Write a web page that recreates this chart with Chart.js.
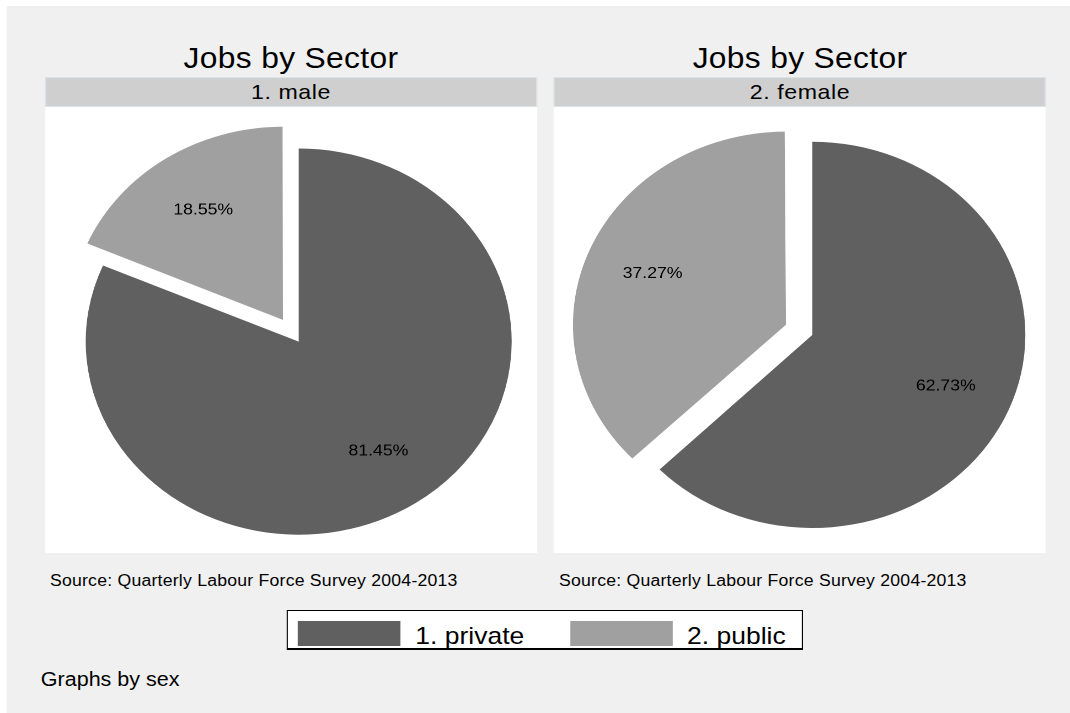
<!DOCTYPE html>
<html>
<head>
<meta charset="utf-8">
<title>Jobs by Sector</title>
<script src="https://cdn.jsdelivr.net/npm/chart.js@4.4.1/dist/chart.umd.min.js"></script>
<style>
  html, body { margin: 0; padding: 0; background: #fff; }
  body { width: 1070px; height: 713px; overflow: hidden; font-family: "Liberation Sans", Arial, Helvetica, sans-serif; color: #000; }
  /* the whole graph is laid out 970px wide and stretched sideways, so the pies come out as wide ovals */
  #page { position: absolute; left: 0; top: 0; width: 970px; height: 713px; transform: scaleX(1.103); transform-origin: 0 0; }
  .abs { position: absolute; white-space: nowrap; line-height: 1; }
  #bg { left: 6.35px; top: 6px; width: 970px; height: 710px; background: #f0f0f0; }
  .panel { top: 107px; width: 446px; height: 446px; background: #fff; }
  .strip { top: 77px; width: 446px; height: 30px; background: #cfcfcf; border: 1px solid #dbe3e8; box-sizing: border-box; }
  .title { top: 43.9px; width: 446px; text-align: center; font-size: 28.8px; letter-spacing: 0.3px; }
  .stripLabel { top: 80.5px; width: 446px; text-align: center; font-size: 21px; letter-spacing: 0.5px; }
  .note { top: 573.2px; font-size: 16px; letter-spacing: 0.2px; }
  canvas.pie { position: absolute; top: 107px; }
  #legend { left: 259.9px; top: 610px; width: 468px; height: 40px; background: #fff; border: 1px solid #000; border-bottom-width: 2px; box-sizing: border-box; }
  .swatch { top: 9.7px; width: 92.8px; height: 25px; }
  .key { top: 13.4px; font-size: 24px; }
  #bysex { left: 37px; top: 669.5px; font-size: 19.5px; }
</style>
</head>
<body>
<div id="page">
  <div id="bg" class="abs"></div>
  <div id="legend" class="abs"></div>
  <div id="bysex" class="abs">Graphs by sex</div>
</div>
<script>
// shares of jobs by sector, in percent
const sectors = ['1. private', '2. public'];
const groups = ['1. male', '2. female'];
const maleShares = [81.45, 18.55];
const femaleShares = [62.73, 37.27];
const sliceColors = ['#606060', '#a0a0a0'];

const titleText = 'Jobs by Sector';
const noteText = 'Source: Quarterly Labour Force Survey 2004-2013';

const panelLeft = [40.8, 502.3];
const pieRadius = 193.1;
const explode = 26;       // how far the public slice is pulled out
const labelPos = 0.68;    // label distance, as a share of the radius
const piePadding = [{ left: 13.6, top: 23.2 }, { left: 23, top: 9.8 }];

const page = document.getElementById('page');

function addDiv(cls, left, text) {
  const d = document.createElement('div');
  d.className = 'abs ' + cls;
  d.style.left = left + 'px';
  if (text) d.textContent = text;
  page.appendChild(d);
  return d;
}

// keep the pulled-out slice the same size as the rest of the pie
const keepRadius = {
  id: 'keepRadius',
  beforeDatasetsDraw(chart) {
    const meta = chart.getDatasetMeta(0);
    const R = meta.controller.outerRadius;
    meta.data.forEach(arc => {
      const shift = (arc.options.offset || 0) / 4;
      const fix = 1 - Math.sin(Math.min(Math.PI, arc.circumference));
      arc.outerRadius = R - shift * fix;
    });
  }
};

// percentage written inside each slice
const sliceLabels = {
  id: 'sliceLabels',
  afterDatasetsDraw(chart) {
    const ctx = chart.ctx;
    const meta = chart.getDatasetMeta(0);
    const values = chart.data.datasets[0].data;
    const R = meta.controller.outerRadius;
    ctx.save();
    ctx.font = '16px "Liberation Sans", Arial, sans-serif';
    ctx.fillStyle = '#000';
    ctx.textAlign = 'center';
    ctx.textBaseline = 'middle';
    meta.data.forEach((arc, i) => {
      const mid = (arc.startAngle + arc.endAngle) / 2;
      const r = (arc.options.offset || 0) / 4 + labelPos * R;
      ctx.fillText(values[i].toFixed(2) + '%', arc.x + Math.cos(mid) * r, arc.y + Math.sin(mid) * r);
    });
    ctx.restore();
  }
};

function makePie(canvas, values, pad) {
  return new Chart(canvas, {
    type: 'pie',
    data: {
      labels: sectors,
      datasets: [{
        data: values,
        backgroundColor: sliceColors,
        borderWidth: 0,
        radius: pieRadius,
        offset: [0, explode * 4]
      }]
    },
    options: {
      responsive: false,
      animation: false,
      devicePixelRatio: 2,
      events: [],
      layout: { padding: pad },
      plugins: {
        legend: { display: false },
        tooltip: { enabled: false }
      }
    },
    plugins: [keepRadius, sliceLabels]
  });
}

const shares = [maleShares, femaleShares];
groups.forEach((g, i) => {
  const x = panelLeft[i];
  addDiv('title', x, titleText);
  addDiv('strip', x);
  addDiv('stripLabel', x, g);
  addDiv('panel', x);
  addDiv('note', x + 4.5, noteText);

  const c = document.createElement('canvas');
  c.className = 'pie';
  c.width = 446;
  c.height = 446;
  c.style.left = x + 'px';
  c.style.width = '446px';
  c.style.height = '446px';
  page.appendChild(c);
  makePie(c, shares[i], piePadding[i]);
});

// legend keys
const legend = document.getElementById('legend');
const keyX = [[9.5, 115.7], [255.9, 362.0]];
sectors.forEach((s, i) => {
  const sw = document.createElement('div');
  sw.className = 'abs swatch';
  sw.style.left = keyX[i][0] + 'px';
  sw.style.background = sliceColors[i];
  legend.appendChild(sw);
  const t = document.createElement('div');
  t.className = 'abs key';
  t.style.left = keyX[i][1] + 'px';
  t.textContent = s;
  legend.appendChild(t);
});
page.appendChild(document.getElementById('bysex'));
</script>
</body>
</html>
